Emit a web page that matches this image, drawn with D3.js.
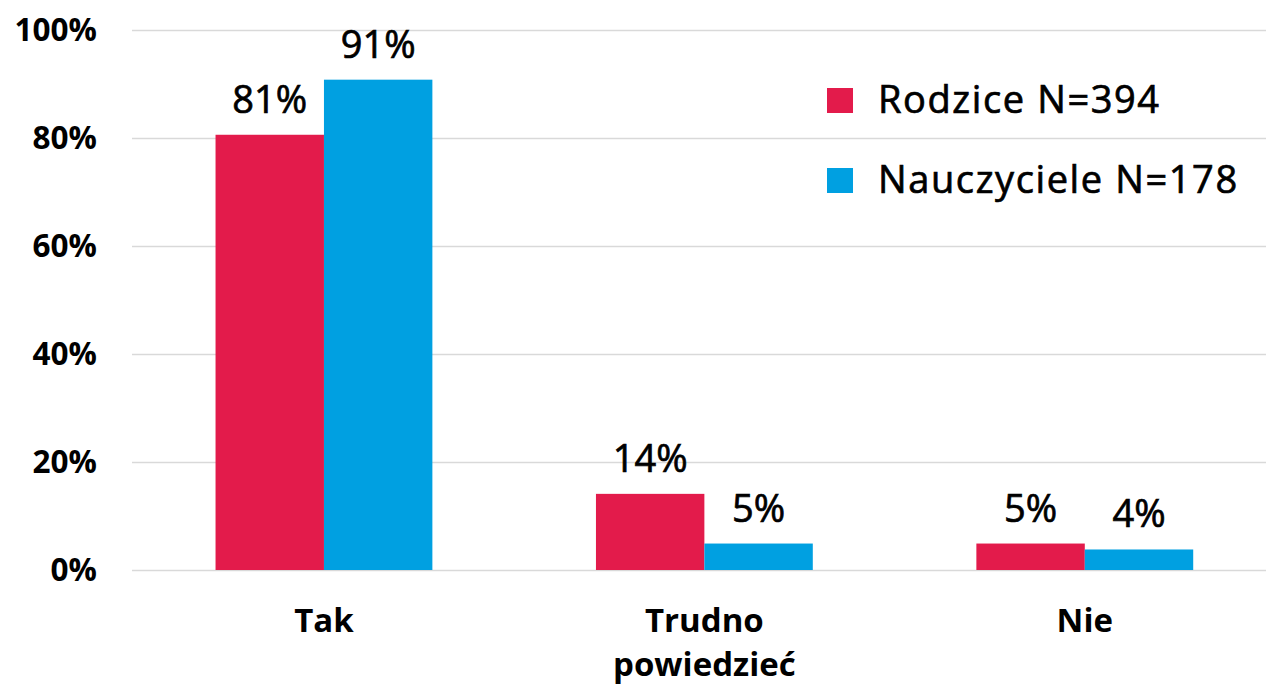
<!DOCTYPE html>
<html>
<head>
<meta charset="utf-8">
<script src="https://cdn.jsdelivr.net/npm/d3@7"></script>
<style>
    body { margin: 0; background: #fff; }
    svg { display: block; font-family: "Open Sans", Lato, sans-serif; }
</style>
</head>
<body>
<svg id="chart" width="1266" height="684"></svg>
<script>
// chart data
var categories = [['Tak'], ['Trudno', 'powiedzieć'], ['Nie']];
var seriesNames = ['Rodzice N=394', 'Nauczyciele N=178'];
var rodzice = [80.6, 14.1, 4.9];
var nauczyciele = [90.8, 4.9, 3.8];
var labelsRodzice = ['81%', '14%', '5%'];
var labelsNauczyciele = ['91%', '5%', '4%'];
var yTicks = [0, 20, 40, 60, 80, 100];
var colors = ['#E31B4B', '#00A0E1'];

var svg = d3.select('#chart');
var width = 1266;

var x = d3.scaleBand()
    .domain(d3.range(categories.length))
    .range([133.75, 1275])
    .paddingInner(0.43)
    .paddingOuter(0.215);

var inner = d3.scaleBand()
    .domain(d3.range(seriesNames.length))
    .range([0, x.bandwidth()]);

var y = d3.scaleLinear()
    .domain([0, 100])
    .range([570, 30]);

// gridlines
svg.append('g')
    .selectAll('line')
    .data(yTicks)
    .enter()
    .append('line')
    .attr('x1', 132)
    .attr('x2', width)
    .attr('y1', function(d){ return Math.round(y(d)) + 0.5; })
    .attr('y2', function(d){ return Math.round(y(d)) + 0.5; })
    .style('stroke', '#d9d9d9')
    .style('stroke-width', 1.5);

// y axis labels
svg.append('g')
    .selectAll('text')
    .data(yTicks)
    .enter()
    .append('text')
    .attr('x', 97)
    .attr('y', function(d){ return y(d) + 11; })
    .attr('text-anchor', 'end')
    .attr('font-size', 31.5)
    .attr('font-weight', 'bold')
    .text(function(d){ return d + '%'; });

// bars
var series = [rodzice, nauczyciele];
var seriesLabels = [labelsRodzice, labelsNauczyciele];

series.forEach(function(values, s){
    var g = svg.append('g');
    g.selectAll('rect')
        .data(values)
        .enter()
        .append('rect')
        .attr('x', function(d, i){ return x(i) + inner(s); })
        .attr('y', function(d){ return y(d); })
        .attr('width', inner.bandwidth())
        .attr('height', function(d){ return y(0) - y(d); })
        .style('fill', colors[s]);

    g.selectAll('text')
        .data(values)
        .enter()
        .append('text')
        .attr('x', function(d, i){ return x(i) + inner(s) + inner.bandwidth() / 2; })
        .attr('y', function(d){ return y(d) - 22; })
        .attr('text-anchor', 'middle')
        .attr('font-size', 38)
        .style('stroke', '#000')
        .style('stroke-width', 0.7)
        .text(function(d, i){ return seriesLabels[s][i]; });
});

// category labels
var cat = svg.append('g')
    .selectAll('text')
    .data(categories)
    .enter()
    .append('text')
    .attr('x', function(d, i){ return x(i) + x.bandwidth() / 2; })
    .attr('y', 632)
    .attr('text-anchor', 'middle')
    .attr('font-size', 33)
    .attr('font-weight', 'bold');

cat.selectAll('tspan')
    .data(function(d){ return d; })
    .enter()
    .append('tspan')
    .attr('x', function(){ return d3.select(this.parentNode).attr('x'); })
    .attr('dy', function(d, i){ return i === 0 ? 0 : 44; })
    .text(function(d){ return d; });

// legend
var legend = svg.append('g')
    .selectAll('g')
    .data(seriesNames)
    .enter()
    .append('g')
    .attr('transform', function(d, i){ return 'translate(827,' + (88 + i * 80) + ')'; });

legend.append('rect')
    .attr('width', 26)
    .attr('height', 25)
    .style('fill', function(d, i){ return colors[i]; });

legend.append('text')
    .attr('x', 51)
    .attr('y', 25)
    .attr('font-size', 38)
    .style('stroke', '#000')
    .style('stroke-width', 0.7)
    .attr('letter-spacing', 1.6)
    .text(function(d){ return d; });
</script>
</body>
</html>
